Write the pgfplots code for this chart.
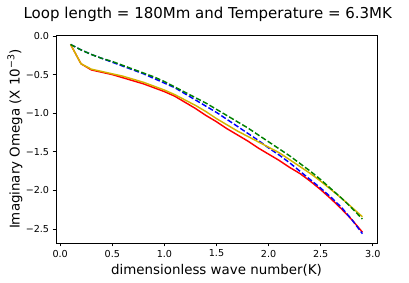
\documentclass[border=0pt]{standalone}
\usepackage{pgfplots}
\pgfplotsset{compat=1.18}
\usepackage{fontspec}
\setmainfont{DejaVu Sans}
\definecolor{myred}{rgb}{1,0,0}
\definecolor{myblue}{rgb}{0,0,1}
\definecolor{mygreen}{rgb}{0,0.5,0}
\definecolor{myyellow}{RGB}{212,180,0}
\begin{document}
\begin{tikzpicture}
\begin{axis}[name=ax,
  scale only axis, width=321bp, height=208bp,
  xmin=-0.04, xmax=3.04, ymin=-2.68, ymax=0.0125,
  xtick={0,0.5,1,1.5,2,2.5,3},
  xticklabels={0.0,0.5,1.0,1.5,2.0,2.5,3.0},
  ytick={-2.5,-2,-1.5,-1,-0.5,0},
  yticklabels={−2.5,−2.0,−1.5,−1.0,−0.5,0.0},
  tick pos=left, tick align=outside,
  major tick length=3.4bp,
  axis line style={line width=0.77bp},
  every tick/.style={black, line width=0.77bp},
  ticklabel style={font=\fontsize{9.6bp}{11bp}\selectfont},
  xlabel={dimensionless wave number(K)},
  ylabel={Imaginary Omega (X 10\textsuperscript{−3})},
  label style={font=\fontsize{13.4bp}{15bp}\selectfont},
  xlabel style={at={(axis description cs:0.5,0)}, anchor=center, yshift=-27bp},
  ylabel style={at={(axis description cs:0,0.5)}, anchor=center, yshift=41bp},
  every axis plot/.append style={line width=1.45bp},
]
\addplot[myred] coordinates {
(0.1,-0.11) (0.2,-0.36) (0.3,-0.44) (0.4,-0.47) (0.5,-0.50) (0.6,-0.54)
(0.7,-0.58) (0.8,-0.62) (0.9,-0.67) (1.0,-0.72) (1.1,-0.78) (1.2,-0.86)
(1.3,-0.94) (1.4,-1.03) (1.5,-1.11) (1.6,-1.20) (1.7,-1.28) (1.8,-1.36)
(1.9,-1.45) (2.0,-1.53) (2.1,-1.61) (2.2,-1.70) (2.3,-1.78) (2.4,-1.88)
(2.5,-1.99) (2.6,-2.11) (2.7,-2.24) (2.8,-2.38) (2.9,-2.54)
};
\addplot[myblue, dash pattern=on 5.3bp off 2.3bp] coordinates {
(0.1,-0.11) (0.2,-0.18) (0.3,-0.24) (0.4,-0.29) (0.5,-0.34) (0.6,-0.39)
(0.7,-0.44) (0.8,-0.49) (0.9,-0.55) (1.0,-0.61) (1.1,-0.67) (1.2,-0.75)
(1.3,-0.83) (1.4,-0.91) (1.5,-0.99) (1.6,-1.08) (1.7,-1.17) (1.8,-1.26)
(1.9,-1.35) (2.0,-1.45) (2.1,-1.54) (2.2,-1.64) (2.3,-1.75) (2.4,-1.86)
(2.5,-1.97) (2.6,-2.09) (2.7,-2.22) (2.8,-2.38) (2.9,-2.56)
};
\addplot[myyellow] coordinates {
(0.1,-0.11) (0.2,-0.36) (0.3,-0.43) (0.4,-0.46) (0.5,-0.49) (0.6,-0.52)
(0.7,-0.56) (0.8,-0.60) (0.9,-0.65) (1.0,-0.70) (1.1,-0.76) (1.2,-0.83)
(1.3,-0.90) (1.4,-0.98) (1.5,-1.07) (1.6,-1.15) (1.7,-1.23) (1.8,-1.30)
(1.9,-1.37) (2.0,-1.44) (2.1,-1.51) (2.2,-1.60) (2.3,-1.69) (2.4,-1.78)
(2.5,-1.88) (2.6,-1.99) (2.7,-2.10) (2.8,-2.22) (2.9,-2.34)
};
\addplot[mygreen, dash pattern=on 5.3bp off 2.3bp] coordinates {
(0.1,-0.11) (0.2,-0.18) (0.3,-0.24) (0.4,-0.29) (0.5,-0.33) (0.6,-0.38)
(0.7,-0.43) (0.8,-0.48) (0.9,-0.53) (1.0,-0.59) (1.1,-0.66) (1.2,-0.73)
(1.3,-0.80) (1.4,-0.87) (1.5,-0.95) (1.6,-1.03) (1.7,-1.11) (1.8,-1.19)
(1.9,-1.28) (2.0,-1.37) (2.1,-1.46) (2.2,-1.55) (2.3,-1.65) (2.4,-1.75)
(2.5,-1.86) (2.6,-1.98) (2.7,-2.10) (2.8,-2.23) (2.9,-2.37)
};
\end{axis}
\node[font=\fontsize{15bp}{18bp}\selectfont, anchor=center]
  at ([shift={(-8.7bp,21bp)}]ax.north) {Loop length = 180Mm and Temperature = 6.3MK};
\pgfresetboundingbox
\path ([shift={(-56bp,-40bp)}]ax.south west) rectangle ([shift={(32bp,35bp)}]ax.north east);
\end{tikzpicture}
\end{document}
